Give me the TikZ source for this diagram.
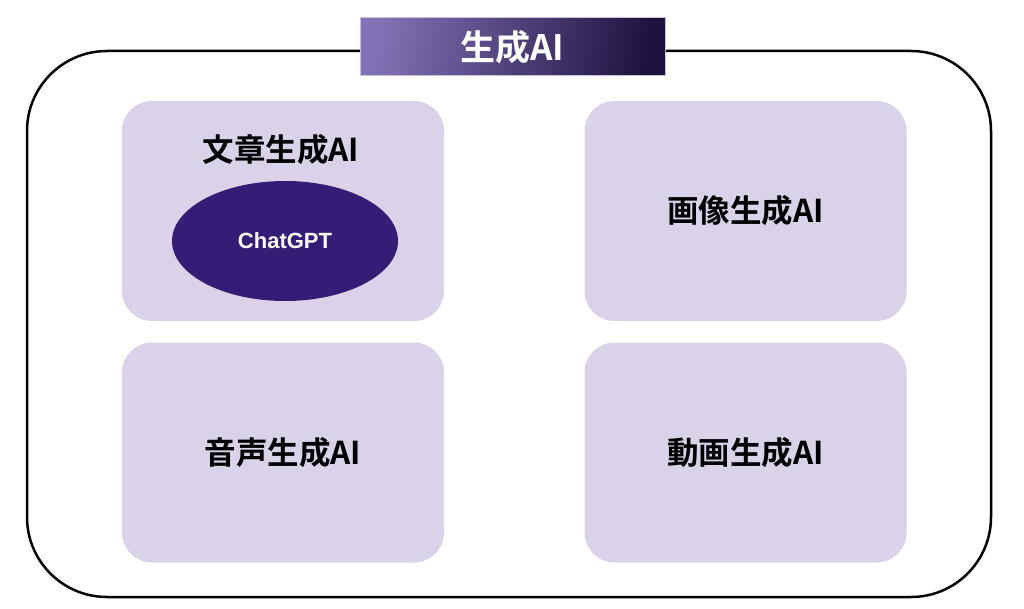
\documentclass[tikz,border=0pt]{standalone}
\usepackage{fontspec}
\newfontfamily\jpfont{Noto Sans CJK JP}[BoldFont={Noto Sans CJK JP Bold}]
\newfontfamily\latinfont{Liberation Sans}
\definecolor{boxfill}{HTML}{D9D2E9}
\definecolor{ellfill}{HTML}{351C75}
\definecolor{gradL}{HTML}{8371B6}
\definecolor{gradR}{HTML}{20123F}
\definecolor{titleborder}{HTML}{C9BFDD}
\usetikzlibrary{shapes.geometric}
\tikzset{
  catbox/.style={fill=boxfill, draw=none, rounded corners=30pt, minimum width=322pt, minimum height=220pt, inner sep=0pt},
  catlabel/.style={font=\jpfont\bfseries\fontsize{31.5}{31.5}\selectfont, text=black},
  outerframe/.style={draw=black, line width=2.5pt, rounded corners=80pt},
}
\begin{document}
\begin{tikzpicture}[x=1pt,y=-1pt]
\useasboundingbox (0,0) rectangle (1024,609);
\fill[white] (0,0) rectangle (1024,609);
% outer frame
\draw[outerframe] (27,51) rectangle (991,597);
% title
\node[draw=titleborder, line width=1pt, left color=gradL, right color=gradR, shading angle=80, minimum width=305pt, minimum height=58pt, inner sep=0pt,
  font=\jpfont\bfseries\fontsize{35}{35}\selectfont, text=white] (title) at (512.5,47) {生成AI};
% category boxes
\node[catbox] (text) at (283,211) {};
\node[catbox] (image) at (745.5,211) {};
\node[catbox] (audio) at (283,452.5) {};
\node[catbox] (video) at (745.5,452.5) {};
\node[catlabel] (textlbl) at (281,150) {文章生成AI};
\node[catlabel] at (image) {画像生成AI};
\node[catlabel] at (audio) {音声生成AI};
\node[catlabel] at (video) {動画生成AI};
% ChatGPT
\node[ellipse, fill=ellfill, minimum width=226pt, minimum height=120pt, inner sep=0pt,
  font=\latinfont\bfseries\fontsize{22}{22}\selectfont, text=white] (chatgpt) at (285,241) {ChatGPT};
\end{tikzpicture}
\end{document}
